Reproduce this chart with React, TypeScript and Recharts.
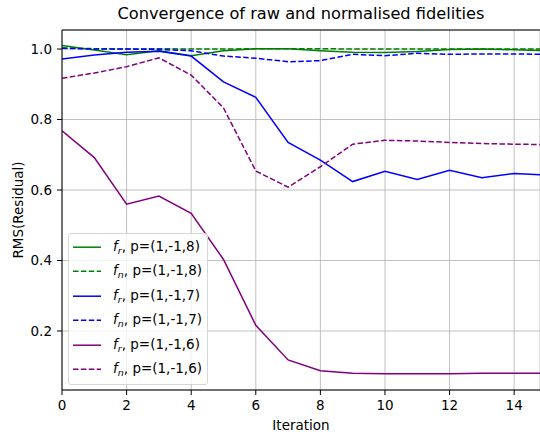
import React from 'react';
import { LineChart, Line, XAxis, YAxis, CartesianGrid, Legend, ReferenceLine } from 'recharts';

const iterations = [0, 1, 2, 3, 4, 5, 6, 7, 8, 9, 10, 11, 12, 13, 14, 15];
const frP8 = [1.010, 0.997, 0.984, 0.995, 0.981, 0.995, 1.001, 1.001, 0.995, 0.991, 0.990, 0.993, 0.999, 1.000, 0.998, 0.995];
const fnP8 = [1.003, 1.001, 1.000, 1.001, 1.000, 1.000, 1.001, 1.001, 1.001, 1.000, 1.000, 1.000, 1.000, 1.000, 1.000, 1.000];
const frP7 = [0.972, 0.983, 0.991, 0.994, 0.980, 0.907, 0.863, 0.735, 0.685, 0.624, 0.653, 0.630, 0.656, 0.635, 0.647, 0.642];
const fnP7 = [1.002, 1.000, 1.000, 0.999, 0.995, 0.980, 0.974, 0.964, 0.967, 0.985, 0.981, 0.988, 0.985, 0.986, 0.986, 0.985];
const frP6 = [0.768, 0.692, 0.560, 0.583, 0.534, 0.403, 0.216, 0.118, 0.087, 0.080, 0.079, 0.079, 0.079, 0.080, 0.080, 0.080];
const fnP6 = [0.917, 0.932, 0.950, 0.975, 0.926, 0.833, 0.654, 0.608, 0.666, 0.730, 0.741, 0.739, 0.735, 0.732, 0.730, 0.729];
const xTicks = [0, 2, 4, 6, 8, 10, 12, 14];
const yTicks = [0.2, 0.4, 0.6, 0.8, 1.0];

const data = iterations.map((x, i) => ({
  x,
  frP8: frP8[i],
  fnP8: fnP8[i],
  frP7: frP7[i],
  fnP7: fnP7[i],
  frP6: frP6[i],
  fnP6: fnP6[i],
}));

const series = [
  { key: 'frP8', sub: 'r', p: '(1,-1,8)', color: '#008000', dashed: false },
  { key: 'fnP8', sub: 'n', p: '(1,-1,8)', color: '#008000', dashed: true },
  { key: 'frP7', sub: 'r', p: '(1,-1,7)', color: '#0000ff', dashed: false },
  { key: 'fnP7', sub: 'n', p: '(1,-1,7)', color: '#0000ff', dashed: true },
  { key: 'frP6', sub: 'r', p: '(1,-1,6)', color: '#800080', dashed: false },
  { key: 'fnP6', sub: 'n', p: '(1,-1,6)', color: '#800080', dashed: true },
];

const FONT = '"DejaVu Sans", sans-serif';
const DASH = '5.5 2.4';
const Y_MIN = 0.0326;
const Y_MAX = 1.054;

const LegendBox = () => (
  <div
    style={{
      border: '1px solid #d6d6d6',
      borderRadius: 3,
      background: 'rgba(255,255,255,0.8)',
      width: 138,
      height: 149,
      paddingTop: 1,
      boxSizing: 'content-box',
      fontFamily: FONT,
      fontSize: 13.5,
      color: '#000',
    }}
  >
    {series.map((s) => (
      <div key={s.key} style={{ height: 24.4, position: 'relative' }}>
        <svg width={40} height={24} style={{ position: 'absolute', left: 0, top: 0 }}>
          <line
            x1={4}
            x2={32}
            y1={12.2}
            y2={12.2}
            stroke={s.color}
            strokeWidth={1.5}
            strokeDasharray={s.dashed ? DASH : undefined}
          />
        </svg>
        <span
          style={{
            position: 'absolute',
            left: 44,
            top: 3,
            whiteSpace: 'nowrap',
            lineHeight: '16px',
          }}
        >
          <i>f</i>
          <sub style={{ fontSize: 9.5, fontStyle: 'italic', verticalAlign: '-3px' }}>{s.sub}</sub>
          , p={s.p}
        </span>
      </div>
    ))}
  </div>
);

export default function App() {
  return (
    <div style={{ position: 'absolute', left: 0, top: 0, width: 540, height: 432, background: '#fff' }}>
      <div
        style={{
          position: 'absolute',
          left: 62,
          width: 478,
          top: 4,
          textAlign: 'center',
          fontFamily: FONT,
          fontSize: 16.2,
          color: '#000',
          lineHeight: '20px',
        }}
      >
        Convergence of raw and normalised fidelities
      </div>
      <LineChart
        width={540}
        height={432}
        data={data}
        margin={{ top: 30, right: 0, left: 0, bottom: 0 }}
        style={{ fontFamily: FONT }}
      >
        <CartesianGrid stroke="#b0b0b0" strokeWidth={0.8} />
        <XAxis
          dataKey="x"
          type="number"
          domain={[0, 14.8]}
          ticks={xTicks}
          allowDataOverflow
          height={42}
          tickSize={5}
          tickMargin={5}
          stroke="#000"
          tick={{ fill: '#000', fontSize: 13.5 }}
          label={{ value: 'Iteration', position: 'insideBottom', offset: 2, fill: '#000', fontSize: 13.5 }}
        />
        <YAxis
          type="number"
          domain={[Y_MIN, Y_MAX]}
          ticks={yTicks}
          allowDataOverflow
          width={62}
          tickSize={5}
          tickMargin={5}
          stroke="#000"
          tick={{ fill: '#000', fontSize: 13.5 }}
          tickFormatter={(v: number) => v.toFixed(1)}
          label={{
            value: 'RMS(Residual)',
            angle: -90,
            position: 'insideLeft',
            offset: 18,
            fill: '#000',
            fontSize: 13.5,
            style: { textAnchor: 'middle' },
          }}
        />
        <ReferenceLine y={Y_MAX} stroke="#000" strokeWidth={1} />
        {series.map((s) => (
          <Line
            key={s.key}
            dataKey={s.key}
            type="linear"
            stroke={s.color}
            strokeWidth={1.5}
            strokeDasharray={s.dashed ? DASH : undefined}
            dot={false}
            activeDot={false}
            isAnimationActive={false}
          />
        ))}
        <Legend
          layout="vertical"
          align="center"
          verticalAlign="middle"
          content={() => <LegendBox />}
          wrapperStyle={{ left: 68, top: 233, width: 'auto', height: 'auto' }}
        />
      </LineChart>
    </div>
  );
}
